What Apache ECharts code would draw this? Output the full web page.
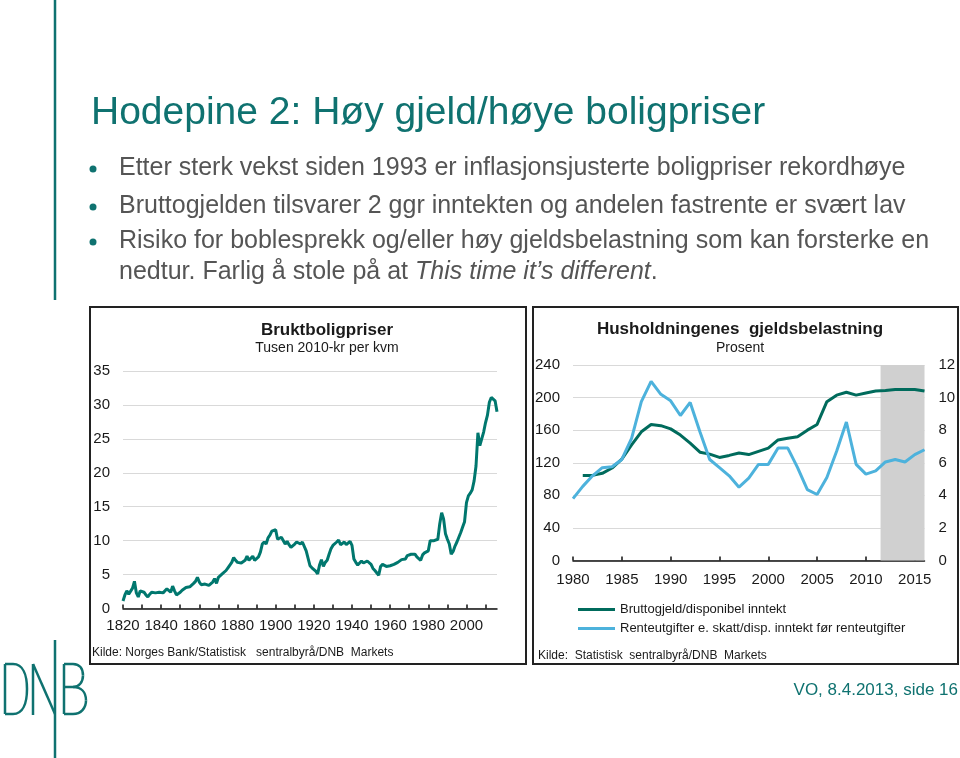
<!DOCTYPE html>
<html><head><meta charset="utf-8">
<script src="https://cdn.jsdelivr.net/npm/echarts@6/dist/echarts.min.js"></script>
<style>html,body{margin:0;padding:0;background:#fff}#c{width:960px;height:758px}</style>
</head><body><div id="c"></div><script>
// ---- Left chart: Bruktboligpriser (tusen 2010-kr per kvm), yearly from 1820
const priceStartYear = 1820;
const priceValues = [
 1.1,2.0,2.6,2.1,2.3,3.0,4.0,2.3,1.7,2.6, // 1820-1829
 2.8,2.4,2.0,1.7,2.1,2.4,2.4,2.3,2.2,2.4, // 1830-1839
 2.6,2.3,2.5,2.9,2.7,2.4,3.3,2.6,2.0,2.2, // 1840-1849
 2.4,2.7,2.9,3.1,3.3,3.2,3.4,3.7,4.0,4.6, // 1850-1859
 3.9,3.5,3.3,3.6,3.7,3.4,3.6,3.9,4.4,3.7, // 1860-1869
 4.6,4.8,5.1,5.3,5.6,6.0,6.4,6.8,7.5,7.1, // 1870-1879
 6.8,6.6,6.7,6.8,7.1,7.7,7.1,7.4,7.7,7.1, // 1880-1889
 7.2,7.6,8.3,9.5,9.8,9.5,10.4,10.8,11.4,11.6, // 1890-1899
 11.6,10.2,10.3,10.5,10.6,9.5,9.9,9.4,9.0,9.2, // 1900-1909
 9.5,9.8,9.6,9.5,9.8,10.0,8.5,8.3,6.3,6.0, // 1910-1919
 5.9,5.5,5.1,6.4,7.2,6.2,6.8,7.1,8.0,8.8, // 1920-1929
 9.3,9.5,9.8,10.1,9.4,9.3,9.8,9.4,9.5,9.9, // 1930-1939
 9.3,7.3,6.8,6.4,6.3,7.0,6.7,6.9,7.0,7.0, // 1940-1949
 6.5,5.9,5.6,5.5,4.9,6.2,6.5,6.3,6.2,6.0, // 1950-1959
 6.3,6.4,6.5,6.6,6.8,7.0,7.2,7.2,7.3,7.8, // 1960-1969
 7.9,8.0,7.8,8.0,7.6,7.4,7.1,7.9,8.2,8.3, // 1970-1979
 8.5,10.0,10.0,10.0,10.1,10.2,12.5,14.1,13.2,11.0, // 1980-1989
 10.2,9.5,8.0,8.4,9.2,9.8,10.5,11.2,12.0,12.8, // 1990-1999
 15.6,16.6,17.0,17.5,18.8,21.0,25.9,24.0,25.0,26.0, // 2000-2009
 27.4,28.5,30.4,31.1,31.0,30.6,29.0 // 2010-2016
];
const priceTickYears = [1820,1830,1840,1850,1860,1870,1880,1890,1900,1910,1920,1930,1940,1950,1960,1970,1980,1990,2000,2010];
const priceLabelYears = [1820,1840,1860,1880,1900,1920,1940,1960,1980,2000];

// ---- Right chart: Husholdningenes gjeldsbelastning (prosent)
const debtYears = [1980,1981,1982,1983,1984,1985,1986,1987,1988,1989,1990,1991,1992,1993,1994,1995,1996,1997,1998,1999,2000,2001,2002,2003,2004,2005,2006,2007,2008,2009,2010,2011,2012,2013,2014,2015,2016];
const grossDebtRatio = [null,104.5,104.5,107,113.5,124.5,142,158,167,165.5,161.6,154,144,133,130.6,126.5,129,132,130,134,138,148,150,152,160,167,195,203,206.5,203,205.7,208,208.6,210,210,210,208];
const interestBurden = [3.8,4.55,5.2,5.7,5.75,6.2,7.5,9.75,11.0,10.2,9.8,8.9,9.7,7.9,6.2,5.7,5.2,4.5,5.05,5.9,5.9,6.9,6.9,5.7,4.35,4.05,5.1,6.7,8.5,5.9,5.3,5.5,6.05,6.2,6.05,6.5,6.8];
const debtLabelYears = [1980,1985,1990,1995,2000,2005,2010,2015];
const forecastBand = [2011.5, 2016];

const TEAL = '#0f7270';
const chart = echarts.init(document.getElementById('c'), null, {renderer:'canvas'});
const font = 'Liberation Sans, Arial, sans-serif';
const axisTxt = {fontFamily: font, fontSize: 15, color: '#1a1a1a'};

function txt(x, y, text, size, opts) {
  return {type:'text', x:x, y:y, silent:true, style:Object.assign({text:text, font: (opts&&opts.weight?opts.weight+' ':'') + size + 'px ' + font, fill:'#1a1a1a', textAlign:'left', textVerticalAlign:'middle'}, opts&&opts.style||{})};
}
function ln(x1,y1,x2,y2){ return {type:'line', silent:true, shape:{x1:x1,y1:y1,x2:x2,y2:y2}, style:{stroke:TEAL, lineWidth:2.5}}; }
function bz(x1,y1,c1x,c1y,c2x,c2y,x2,y2){ return {type:'bezierCurve', silent:true, shape:{x1:x1,y1:y1,cpx1:c1x,cpy1:c1y,cpx2:c2x,cpy2:c2y,x2:x2,y2:y2}, style:{stroke:TEAL, lineWidth:2.5, fill:null}}; }

const bullets = [
  'Etter sterk vekst siden 1993 er inflasjonsjusterte boligpriser rekordhøye',
  'Bruttogjelden tilsvarer 2 ggr inntekten og andelen fastrente er svært lav',
  'Risiko for boblesprekk og/eller høy gjeldsbelastning som kan forsterke en'
];
const bulletY = [168, 206, 241];

const graphics = [
  ln(55,0,55,300), ln(55,640,55,758),
  // D
  ln(5,664,5,714), ln(5,664,13,664), ln(5,714,13,714),
  bz(13,664,23,664,27,675,27,689), bz(27,689,27,703,23,714,13,714),
  // N
  ln(33,664,33,715), ln(33,664,55,714),
  // B
  ln(64,664,64,714), ln(64,664,73,664), ln(64,687,73,687), ln(64,714,73,714),
  bz(73,664,80,664,83,669,83,675.5), bz(83,675.5,83,682,79,687,73,687),
  bz(73,687,81,687,86,692,86,700.5), bz(86,700.5,86,708,81,714,73,714),
  txt(91, 113, 'Hodepine 2: Høy gjeld/høye boligpriser', 39, {style:{fill:TEAL}}),
];
bullets.forEach((b,i)=>{
  graphics.push({type:'circle', silent:true, shape:{cx:93, cy:bulletY[i]+1, r:3.5}, style:{fill:TEAL}});
  graphics.push(txt(119, bulletY[i], b, 25, {style:{fill:'#555555'}}));
});
graphics.push({type:'text', silent:true, x:119, y:272, style:{
  text:'nedtur. Farlig å stole på at {i|This time it’s different}.',
  font:'25px ' + font, fill:'#555555', textVerticalAlign:'middle',
  rich:{i:{fontStyle:'italic', fontSize:25, fontFamily:font, fill:'#555555'}}
}});
// chart boxes
graphics.push({type:'rect', silent:true, shape:{x:90,y:307,width:436,height:357}, style:{fill:null, stroke:'#222', lineWidth:2}});
graphics.push({type:'rect', silent:true, shape:{x:533,y:307,width:425,height:357}, style:{fill:null, stroke:'#222', lineWidth:2}});
graphics.push(txt(327, 330, 'Bruktboligpriser', 17, {weight:'bold', style:{textAlign:'center'}}));
graphics.push(txt(327, 348, 'Tusen 2010-kr per kvm', 14, {style:{textAlign:'center'}}));
graphics.push(txt(92, 653, 'Kilde: Norges Bank/Statistisk   sentralbyrå/DNB  Markets', 12));
graphics.push(txt(740, 329, 'Husholdningenes  gjeldsbelastning', 17, {weight:'bold', style:{textAlign:'center'}}));
graphics.push(txt(740, 348, 'Prosent', 14, {style:{textAlign:'center'}}));
graphics.push(txt(538, 656, 'Kilde:  Statistisk  sentralbyrå/DNB  Markets', 12));
graphics.push(txt(958, 690, 'VO, 8.4.2013, side 16', 17, {style:{fill:TEAL, textAlign:'right'}}));

const option = {
  backgroundColor:'#fff',
  animation:false,
  textStyle:{fontFamily:font},
  graphic: graphics,
  grid:[
    {left:123, top:371, width:374, height:237.5},
    {left:573, top:365, width:351.5, height:195.5}
  ],
  xAxis:[
    {type:'value', gridIndex:0, min:1820, max:2016,
     axisLine:{lineStyle:{color:'#111', width:1.5}},
     axisTick:{show:true, inside:true, length:4, customValues:priceTickYears, lineStyle:{color:'#111', width:1.5}},
     axisLabel:Object.assign({customValues:priceLabelYears, margin:10, formatter:v=>String(v)}, axisTxt),
     splitLine:{show:false}},
    {type:'value', gridIndex:1, min:1980, max:2016,
     axisLine:{lineStyle:{color:'#111', width:1.5}},
     axisTick:{show:true, inside:true, length:4, customValues:debtLabelYears, lineStyle:{color:'#111', width:1.5}},
     axisLabel:Object.assign({customValues:debtLabelYears, margin:12, formatter:v=>String(v)}, axisTxt),
     splitLine:{show:false}}
  ],
  yAxis:[
    {type:'value', gridIndex:0, min:0, max:35, interval:5,
     axisLine:{show:false}, axisTick:{show:false},
     axisLabel:Object.assign({margin:13}, axisTxt),
     splitLine:{lineStyle:{color:'#d9d9d9', width:1.2}}},
    {type:'value', gridIndex:1, min:0, max:240, interval:40,
     axisLine:{show:false}, axisTick:{show:false},
     axisLabel:Object.assign({margin:13}, axisTxt),
     splitLine:{lineStyle:{color:'#d9d9d9', width:1.2}}},
    {type:'value', gridIndex:1, position:'right', min:0, max:12, interval:2,
     axisLine:{show:false}, axisTick:{show:false},
     axisLabel:Object.assign({margin:14}, axisTxt),
     splitLine:{show:false}}
  ],
  legend:{
    orient:'vertical', left:578, top:603, itemWidth:37, itemHeight:3, itemGap:6, icon:'rect',
    padding:0,
    textStyle:{fontFamily:font, fontSize:13, color:'#1a1a1a'},
    data:['Bruttogjeld/disponibel inntekt','Renteutgifter e. skatt/disp. inntekt før renteutgifter']
  },
  series:[
    {type:'line', name:'Bruktboligpriser', xAxisIndex:0, yAxisIndex:0, symbol:'none',
     lineStyle:{color:'#00776e', width:3}, itemStyle:{color:'#00776e'},
     data: priceValues.map((v,i)=>[priceStartYear+i, v])},
    {type:'line', name:'band', xAxisIndex:1, yAxisIndex:1, symbol:'none', z:1, data:[], silent:true,
     markArea:{silent:true, itemStyle:{color:'#d0d0d0'}, data:[[{xAxis:forecastBand[0], yAxis:240},{xAxis:forecastBand[1], yAxis:0}]]}},
    {type:'line', name:'Bruttogjeld/disponibel inntekt', xAxisIndex:1, yAxisIndex:1, symbol:'none', z:3,
     lineStyle:{color:'#006b5c', width:3}, itemStyle:{color:'#006b5c'},
     data: debtYears.map((y,i)=>[y, grossDebtRatio[i]])},
    {type:'line', name:'Renteutgifter e. skatt/disp. inntekt før renteutgifter', xAxisIndex:1, yAxisIndex:2, symbol:'none', z:3,
     lineStyle:{color:'#4db2dc', width:3}, itemStyle:{color:'#4db2dc'},
     data: debtYears.map((y,i)=>[y, interestBurden[i]])}
  ]
};
chart.setOption(option);
</script></body></html>
